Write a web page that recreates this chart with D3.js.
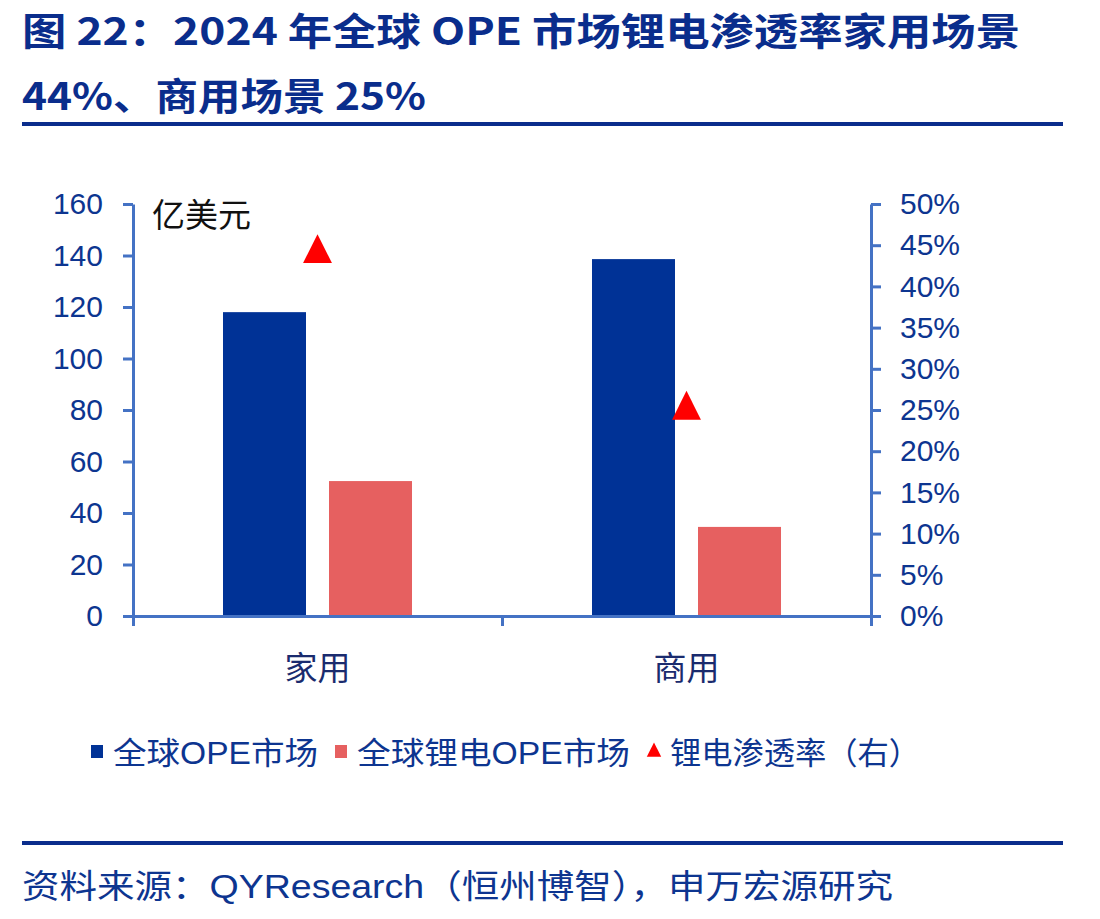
<!DOCTYPE html>
<html lang="zh">
  <head>
    <meta charset="UTF-8" />
    <title>2024 年全球 OPE 市场锂电渗透率</title>
    <script src="https://d3js.org/d3.v7.min.js"></script>
    <style>
      body {
        margin: 0;
        background: #fff;
      }
      svg text {
        font-family: "Liberation Sans", "Noto Sans CJK SC", sans-serif;
      }
      .axis path,
      .axis line {
        stroke: #4472c4;
        stroke-width: 3px;
      }
      .axis text {
        fill: #0d3590;
        font-size: 30px;
      }
    </style>
  </head>
  <body>
    <svg width="1100" height="919"></svg>
    <script>
      const categories = ["家用", "商用"];
      const series = ["全球OPE市场", "全球锂电OPE市场"];
      const marketValues = [118, 138.6];
      const lithiumValues = [52.4, 34.6];
      const penetration = [0.44, 0.25];
      const leftTicks = [0, 20, 40, 60, 80, 100, 120, 140, 160];
      const rightTicks = [0, 0.05, 0.1, 0.15, 0.2, 0.25, 0.3, 0.35, 0.4, 0.45, 0.5];

      const svg = d3.select("svg");
      const textBlue = "#0d3590";
      const colors = ["#003296", "#e66060"];
      const margin = { top: 204, left: 133, right: 229, bottom: 303 };
      const width = 1100, height = 919;

      // title
      svg.append("text")
        .attr("x", 22).attr("y", 45)
        .attr("textLength", 998).attr("lengthAdjust", "spacingAndGlyphs")
        .style("font-size", "38px").style("font-weight", "bold").attr("fill", "#0a2d8c")
        .style("font-family", "'Noto Sans CJK SC', sans-serif")
        .text("图 22：2024 年全球 OPE 市场锂电渗透率家用场景");
      svg.append("text")
        .attr("x", 22).attr("y", 110)
        .attr("textLength", 404).attr("lengthAdjust", "spacingAndGlyphs")
        .style("font-size", "38px").style("font-weight", "bold").attr("fill", "#0a2d8c")
        .style("font-family", "'Noto Sans CJK SC', sans-serif")
        .text("44%、商用场景 25%");
      svg.append("rect").attr("x", 22).attr("y", 122).attr("width", 1041).attr("height", 4).attr("fill", "#0a2d8c");

      const x0 = d3.scaleBand().domain(categories).range([margin.left, width - margin.right]);
      const x1 = d3.scaleBand().domain(series).range([0, x0.bandwidth()])
        .paddingInner(0.217).paddingOuter(0.849);
      const xb = d3.scaleLinear().domain([0, categories.length]).range(x0.range());
      const y = d3.scaleLinear().domain([0, 160]).range([height - margin.bottom, margin.top]);
      const y2 = d3.scaleLinear().domain([0, 0.5]).range(y.range());

      const groups = svg.append("g").selectAll("g")
        .data(categories)
        .join("g")
        .attr("transform", (d) => `translate(${x0(d)},0)`);

      groups.selectAll("rect")
        .data((d, i) => [marketValues[i], lithiumValues[i]].map((v, j) => ({ s: series[j], v, j })))
        .join("rect")
        .attr("x", (d) => x1(d.s))
        .attr("width", x1.bandwidth())
        .attr("y", (d) => y(d.v))
        .attr("height", (d) => y(0) - y(d.v))
        .attr("fill", (d) => colors[d.j]);

      // axes
      svg.append("g").attr("class", "axis")
        .attr("transform", `translate(${margin.left},0)`)
        .call(d3.axisLeft(y).tickValues(leftTicks).tickSize(10).tickSizeOuter(0).tickPadding(20));

      svg.append("g").attr("class", "axis")
        .attr("transform", `translate(${width - margin.right},0)`)
        .call(d3.axisRight(y2).tickValues(rightTicks).tickSize(10).tickSizeOuter(0).tickPadding(19)
          .tickFormat(d3.format(".0%")));

      svg.append("g").attr("class", "axis")
        .attr("transform", `translate(0,${y(0)})`)
        .call(d3.axisBottom(xb).tickValues([0, 1, 2]).tickSize(10).tickSizeOuter(0).tickFormat(""));

      svg.selectAll(".axis .domain").attr("stroke", "#4472c4");
      svg.selectAll(".axis text").attr("fill", textBlue);

      // category labels
      svg.append("g").selectAll("text")
        .data(categories)
        .join("text")
        .attr("x", (d) => x0(d) + x0.bandwidth() / 2)
        .attr("y", 680)
        .attr("text-anchor", "middle")
        .style("font-size", "33px")
        .attr("fill", "#1a2b6e")
        .text((d) => d);

      // triangles
      svg.append("g").selectAll("path")
        .data(penetration)
        .join("path")
        .attr("d", d3.symbol(d3.symbolTriangle, 400))
        .attr("transform", (d, i) => `translate(${x0(categories[i]) + x0.bandwidth() / 2},${y2(d)}) scale(0.95,1.1)`)
        .attr("fill", "#ff0000");

      svg.append("text")
        .attr("x", 152).attr("y", 227)
        .style("font-size", "33px").attr("fill", "#111")
        .text("亿美元");

      // legend
      const legend = svg.append("g").style("font-size", "31px");
      legend.append("rect").attr("x", 91).attr("y", 745).attr("width", 12).attr("height", 13).attr("fill", colors[0]);
      legend.append("text").attr("x", 113).attr("y", 764).attr("fill", textBlue)
        .attr("textLength", 205).attr("lengthAdjust", "spacingAndGlyphs").text(series[0]);
      legend.append("rect").attr("x", 335).attr("y", 745).attr("width", 12).attr("height", 13).attr("fill", colors[1]);
      legend.append("text").attr("x", 357).attr("y", 764).attr("fill", textBlue)
        .attr("textLength", 273).attr("lengthAdjust", "spacingAndGlyphs").text(series[1]);
      legend.append("path").attr("d", d3.symbol(d3.symbolTriangle, 90))
        .attr("transform", "translate(654,752) scale(1,1.15)").attr("fill", "#ff0000");
      legend.append("text").attr("x", 670).attr("y", 764).attr("fill", textBlue)
        .attr("textLength", 250).attr("lengthAdjust", "spacingAndGlyphs").text("锂电渗透率（右）");

      svg.append("rect").attr("x", 22).attr("y", 841).attr("width", 1041).attr("height", 4).attr("fill", "#0a2d8c");
      svg.append("text")
        .attr("x", 22).attr("y", 898)
        .style("font-size", "33px").attr("fill", textBlue)
        .attr("textLength", 871).attr("lengthAdjust", "spacingAndGlyphs")
        .text("资料来源：QYResearch（恒州博智），申万宏源研究");
    </script>
  </body>
</html>
